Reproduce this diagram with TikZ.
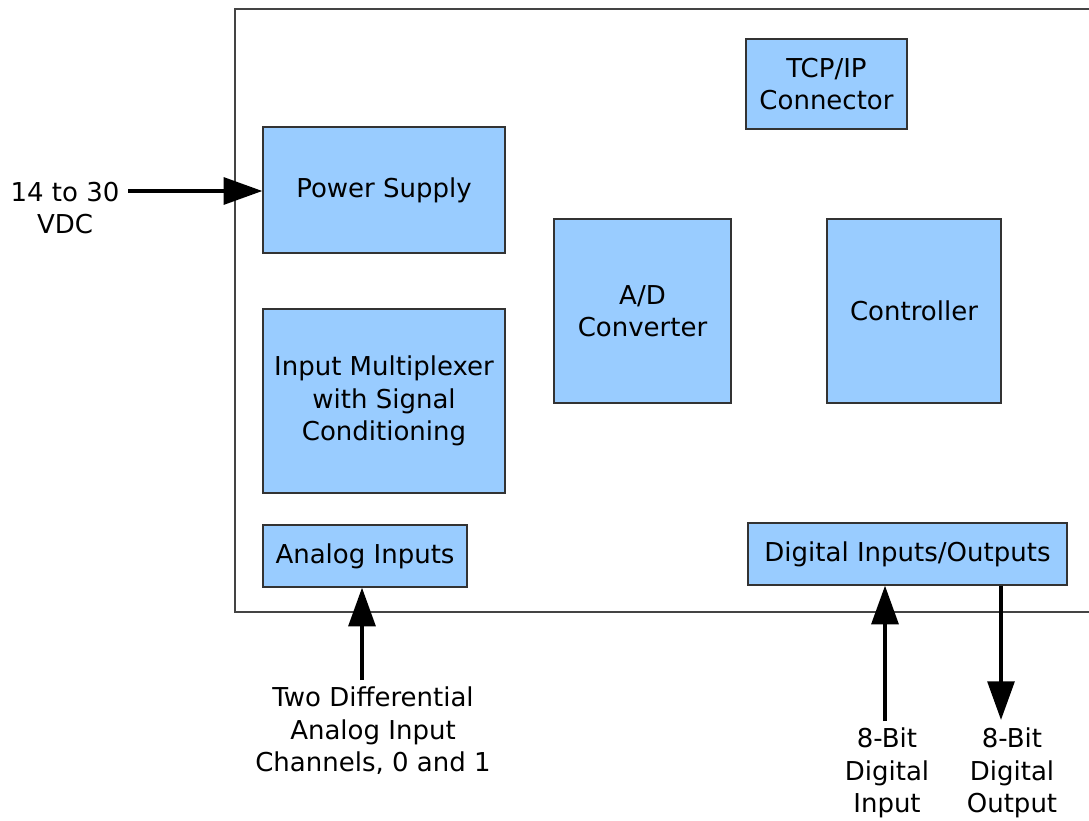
\documentclass[tikz,border=0pt]{standalone}
\usepackage{fontspec}
\setmainfont{DejaVu Sans}
\usetikzlibrary{arrows.meta}
\definecolor{boxfill}{HTML}{99CCFF}
\definecolor{boxline}{HTML}{333333}
\definecolor{frameline}{HTML}{444444}
\tikzset{
  blk/.style={draw=boxline, line width=0.9pt, fill=boxfill, rectangle, inner sep=0pt, align=center,
    font=\fontsize{19.5}{24.4}\selectfont},
  lbl/.style={inner sep=0pt, align=center, font=\fontsize{19.5}{24.4}\selectfont},
  bigarrow/.style={line width=3pt, -{Triangle[length=29pt, width=20pt]}},
}
\begin{document}
\begin{tikzpicture}[x=0.75pt, y=-0.75pt]
\useasboundingbox (0,0) rectangle (1089,821);
\fill[white] (0,0) rectangle (1089,821);
% outer frame
\draw[frameline, line width=1.1pt] (1089,9) -- (235,9) -- (235,612) -- (1089,612);
% blocks
\node[blk, minimum width=120.75pt, minimum height=67.5pt] (tcp) at (826.5,84) {TCP/IP\\Connector};
\node[blk, minimum width=181.5pt, minimum height=94.5pt] (ps) at (384,190) {Power Supply};
\node[blk, minimum width=181.5pt, minimum height=138pt] (mux) at (384,401) {Input Multiplexer\\with Signal\\Conditioning};
\node[blk, minimum width=153pt, minimum height=46.5pt] (ai) at (365,556) {Analog Inputs};
\node[blk, minimum width=132.75pt, minimum height=138pt] (adc) at (642.5,311) {A/D\\Converter};
\node[blk, minimum width=130.5pt, minimum height=138pt] (ctl) at (914,311) {Controller};
\node[blk, minimum width=239.25pt, minimum height=46.5pt] (dio) at (907.5,554) {Digital Inputs/Outputs};
% labels
\node[lbl] (vdc) at (65,208) {14 to 30\\VDC};
\node[lbl] (two) at (373,731) {Two Differential\\Analog Input\\Channels, 0 and 1};
\node[lbl] (din) at (887,773) {8-Bit\\Digital\\Input};
\node[lbl] (dout) at (1012,773) {8-Bit\\Digital\\Output};
% free ends
\coordinate (pwrstart) at (128,191);
\coordinate (aistart) at (362,680);
\coordinate (dinstart) at (885,721);
\coordinate (doutend) at (1001,720);
% arrows
\draw[bigarrow] (pwrstart) -- (pwrstart -| ps.west);
\draw[bigarrow] (aistart) -- (aistart |- ai.south);
\draw[bigarrow] (dinstart) -- (dinstart |- dio.south);
\draw[bigarrow] (doutend |- dio.south) -- (doutend);
\end{tikzpicture}
\end{document}
